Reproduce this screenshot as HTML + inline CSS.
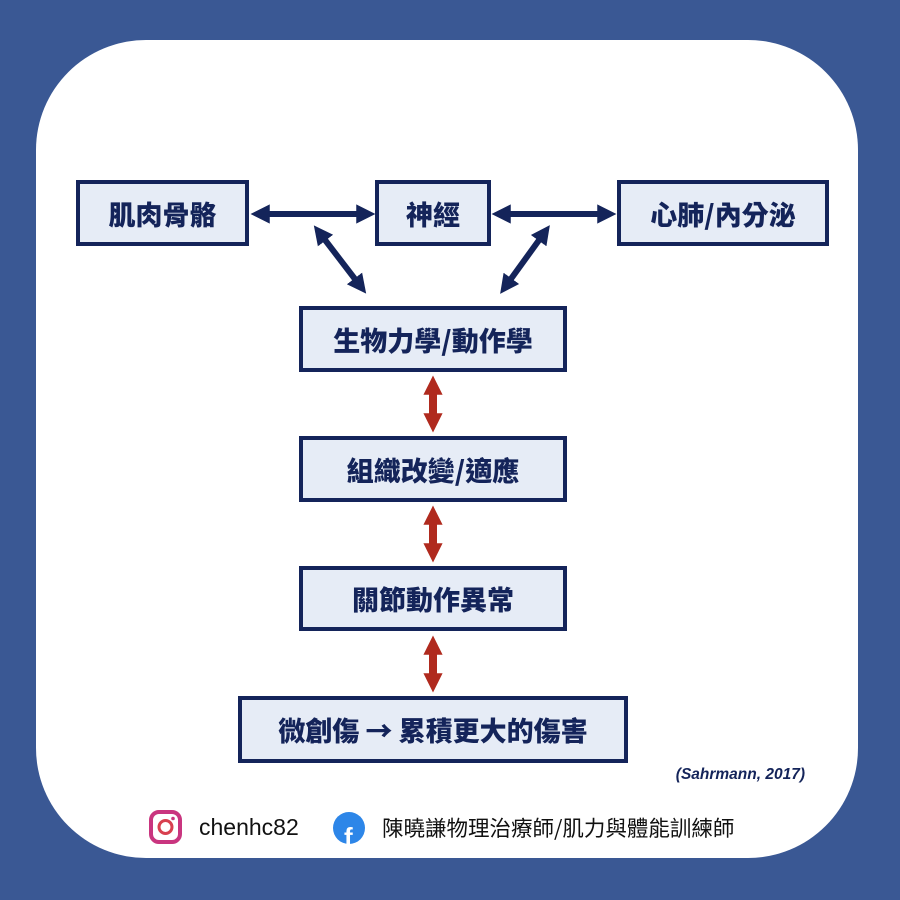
<!DOCTYPE html>
<html><head><meta charset="utf-8">
<style>
html,body{margin:0;padding:0}
body{width:900px;height:900px;background:#3a5894;position:relative;overflow:hidden;font-family:"Liberation Sans","Noto Sans CJK TC",sans-serif}
.card{position:absolute;left:36px;top:40px;width:822px;height:818px;background:#fff;border-radius:110px}
.box{position:absolute;box-sizing:border-box;border:4px solid #14245a;background:#e6ecf6;color:#14245a;font-weight:900;font-size:27px;display:flex;align-items:center;justify-content:center;font-family:"Noto Sans CJK TC","Liberation Sans",sans-serif}
svg{position:absolute;left:0;top:0}
.cite{position:absolute;left:600px;top:766px;width:205px;text-align:right;font-style:italic;font-weight:bold;font-size:15.5px;color:#14245a}
.foot{position:absolute;top:814px;font-size:23px;color:#111}
</style></head><body>
<div class="card"></div>
<div class="box" style="left:76px;top:180px;width:173px;height:66px">肌肉骨骼</div>
<div class="box" style="left:375px;top:180px;width:116px;height:66px">神經</div>
<div class="box" style="left:617px;top:180px;width:212px;height:66px">心肺/內分泌</div>
<div class="box" style="left:299px;top:306px;width:268px;height:66px">生物力學/動作學</div>
<div class="box" style="left:299px;top:436px;width:268px;height:66px">組織改變/適應</div>
<div class="box" style="left:299px;top:566px;width:268px;height:65px">關節動作異常</div>
<div class="box" style="left:238px;top:696px;width:390px;height:67px">微創傷 → 累積更大的傷害</div>
<svg width="900" height="900">
<defs>
<marker id="n" viewBox="0 0 10 10" refX="3" refY="5" markerWidth="3.2" markerHeight="3.6" orient="auto-start-reverse"><path d="M0,0L10,5L0,10z" fill="#14245a"/></marker>
<marker id="r" viewBox="0 0 10 10" refX="3" refY="5" markerWidth="2.4" markerHeight="3.2" orient="auto-start-reverse"><path d="M0,0L10,5L0,10z" fill="#b02a1e"/></marker>
</defs>
<g stroke="#14245a" stroke-width="6" marker-start="url(#n)" marker-end="url(#n)">
<line x1="264" y1="214" x2="362" y2="214"/>
<line x1="505" y1="214" x2="603" y2="214"/>
<line x1="322" y1="236" x2="358" y2="283"/>
<line x1="542" y1="236" x2="508" y2="283"/>
</g>
<g stroke="#b02a1e" stroke-width="8" marker-start="url(#r)" marker-end="url(#r)">
<line x1="433" y1="389" x2="433" y2="419"/>
<line x1="433" y1="519" x2="433" y2="549"/>
<line x1="433" y1="649" x2="433" y2="679"/>
</g>
<rect x="151" y="812" width="29" height="30" rx="8" fill="none" stroke="#c9357f" stroke-width="4"/>
<circle cx="165.5" cy="827" r="6.5" fill="none" stroke="#d8404f" stroke-width="3"/>
<circle cx="173" cy="818.5" r="1.8" fill="#c9357f"/>
<circle cx="349" cy="828" r="16" fill="#2d86e8"/>
<text x="344" y="846" font-family="Liberation Sans,sans-serif" font-weight="bold" font-size="26" fill="#fff">f</text>
</svg>
<div class="cite">(Sahrmann, 2017)</div>
<div class="foot" style="left:199px">chenhc82</div>
<div class="foot" style="left:382px;font-family:'Noto Sans CJK TC',sans-serif;font-size:21.5px;top:812px">陳曉謙物理治療師/肌力與體能訓練師</div>
</body></html>
